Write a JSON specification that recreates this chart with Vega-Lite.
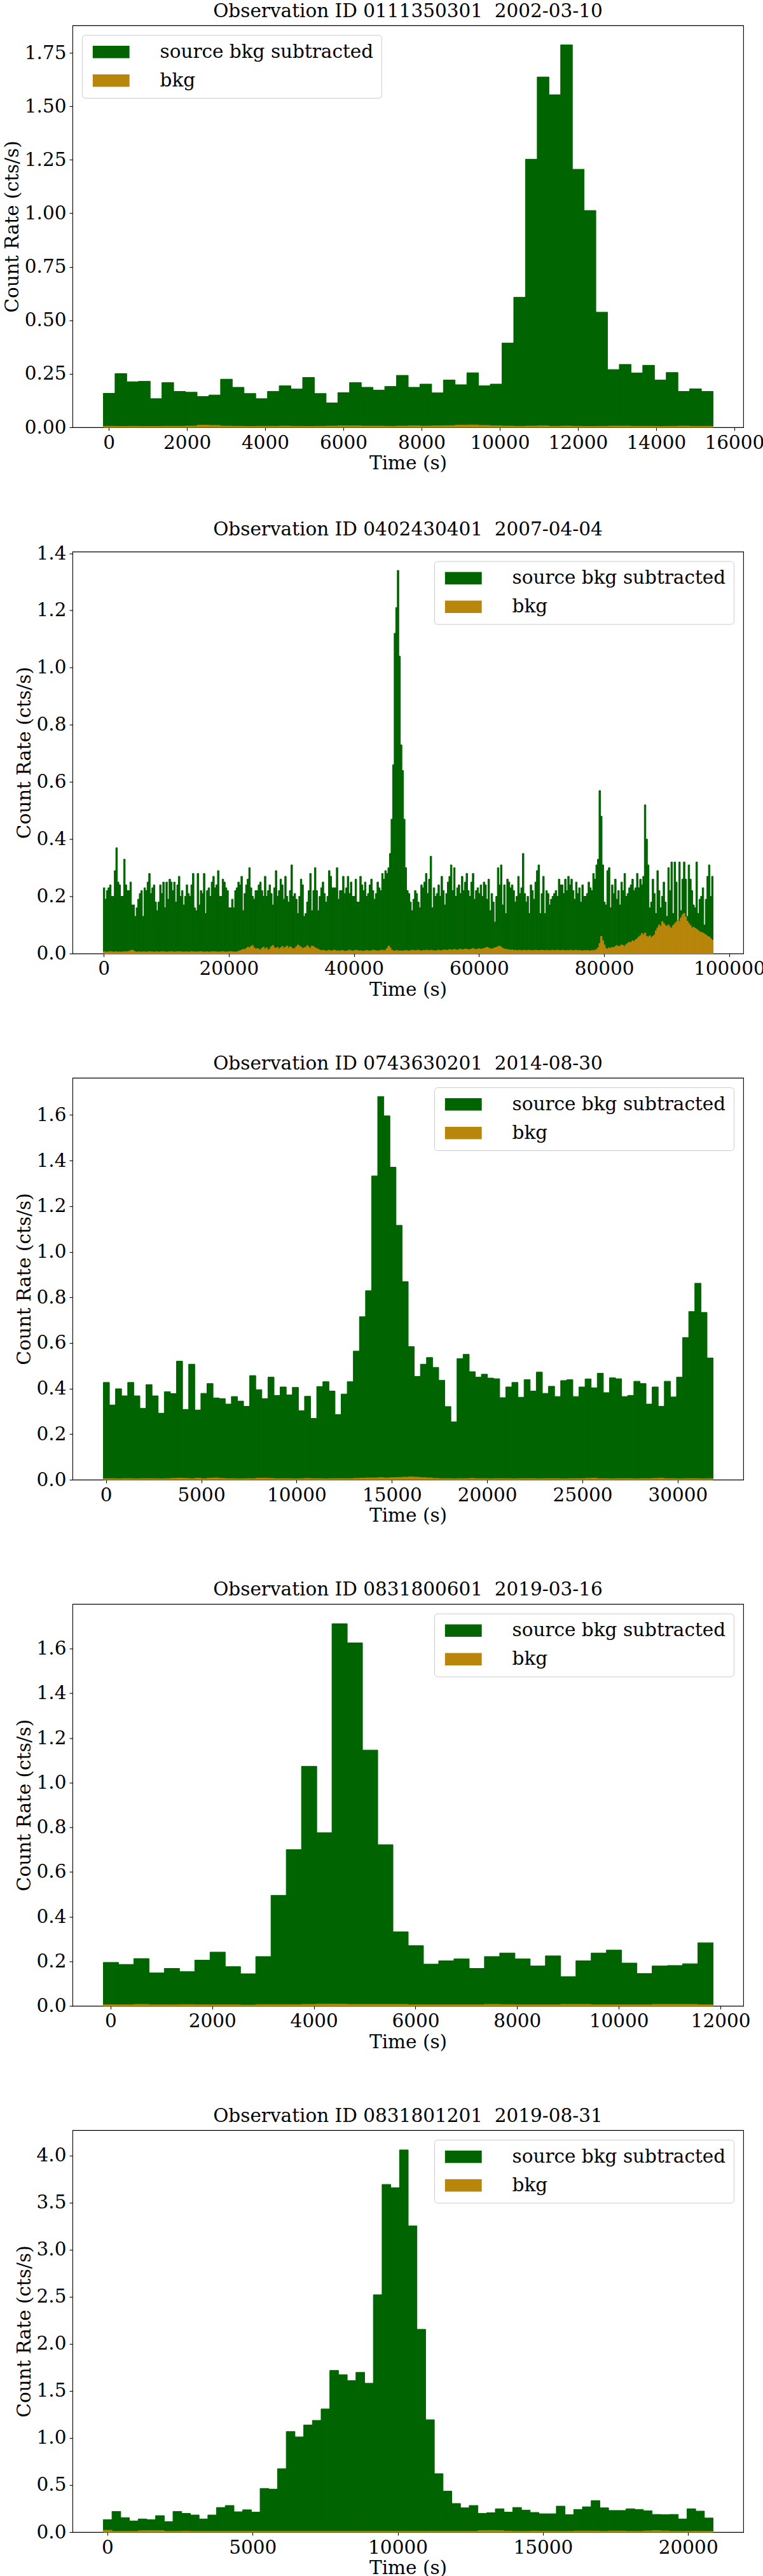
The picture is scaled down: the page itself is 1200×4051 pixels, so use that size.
{
  "$schema": "https://vega.github.io/schema/vega-lite/v6.json",
  "background": "white",
  "padding": {"left": 3, "top": 1, "right": 0, "bottom": 0},
  "config": {
    "font": "DejaVu Serif",
    "view": {"stroke": "black", "strokeWidth": 1.1},
    "axis": {
      "domain": false, "grid": false,
      "tickColor": "black", "tickWidth": 1.1, "tickSize": 5,
      "labelPadding": 5, "labelFont": "DejaVu Serif", "labelFontSize": 29.5, "labelColor": "black",
      "labelFlush": false, "labelOverlap": false,
      "titleFont": "DejaVu Serif", "titleFontSize": 29.5, "titleFontWeight": "normal", "titleColor": "black"
    },
    "axisX": {"titlePadding": 4},
    "axisY": {"titlePadding": 4},
    "title": {"font": "DejaVu Serif", "fontSize": 29.5, "fontWeight": "normal", "color": "black", "offset": 7, "baseline": "alphabetic", "frame": "group", "anchor": "middle"},
    "legend": {
      "labelFont": "DejaVu Serif", "labelFontSize": 29.5, "labelColor": "black", "labelLimit": 600,
      "symbolType": "M-3,-1H3V1H-3Z", "symbolSize": 372, "symbolStrokeWidth": 0,
      "symbolOffset": 19, "labelOffset": 62,
      "padding": 12, "rowPadding": 14,
      "strokeColor": "#cccccc", "fillColor": "white", "cornerRadius": 5, "offset": 15
    }
  },
  "datasets": {
    "p1": [
      {"t":0,"src":0.159,"bkg":0.005},{"t":300,"src":0.251,"bkg":0.004},{"t":600,"src":0.213,"bkg":0.005},{"t":900,"src":0.215,"bkg":0.004},
      {"t":1200,"src":0.134,"bkg":0.004},{"t":1500,"src":0.209,"bkg":0.005},{"t":1800,"src":0.168,"bkg":0.005},{"t":2100,"src":0.164,"bkg":0.006},
      {"t":2400,"src":0.144,"bkg":0.010},{"t":2700,"src":0.151,"bkg":0.009},{"t":3000,"src":0.225,"bkg":0.006},{"t":3300,"src":0.187,"bkg":0.005},
      {"t":3600,"src":0.158,"bkg":0.004},{"t":3900,"src":0.134,"bkg":0.005},{"t":4200,"src":0.168,"bkg":0.005},{"t":4500,"src":0.194,"bkg":0.006},
      {"t":4800,"src":0.179,"bkg":0.005},{"t":5100,"src":0.233,"bkg":0.004},{"t":5400,"src":0.158,"bkg":0.005},{"t":5700,"src":0.114,"bkg":0.006},
      {"t":6000,"src":0.162,"bkg":0.007},{"t":6300,"src":0.209,"bkg":0.007},{"t":6600,"src":0.187,"bkg":0.006},{"t":6900,"src":0.174,"bkg":0.006},
      {"t":7200,"src":0.191,"bkg":0.005},{"t":7500,"src":0.243,"bkg":0.006},{"t":7800,"src":0.187,"bkg":0.007},{"t":8100,"src":0.202,"bkg":0.006},
      {"t":8400,"src":0.161,"bkg":0.007},{"t":8700,"src":0.221,"bkg":0.008},{"t":9000,"src":0.199,"bkg":0.010},{"t":9300,"src":0.255,"bkg":0.011},
      {"t":9600,"src":0.194,"bkg":0.009},{"t":9900,"src":0.202,"bkg":0.007},{"t":10200,"src":0.394,"bkg":0.006},{"t":10500,"src":0.608,"bkg":0.005},
      {"t":10800,"src":1.253,"bkg":0.006},{"t":11100,"src":1.637,"bkg":0.007},{"t":11400,"src":1.554,"bkg":0.005},{"t":11700,"src":1.787,"bkg":0.006},
      {"t":12000,"src":1.206,"bkg":0.005},{"t":12300,"src":1.013,"bkg":0.004},{"t":12600,"src":0.538,"bkg":0.005},{"t":12900,"src":0.270,"bkg":0.006},
      {"t":13200,"src":0.294,"bkg":0.006},{"t":13500,"src":0.254,"bkg":0.005},{"t":13800,"src":0.290,"bkg":0.005},{"t":14100,"src":0.221,"bkg":0.004},
      {"t":14400,"src":0.256,"bkg":0.005},{"t":14700,"src":0.168,"bkg":0.006},{"t":15000,"src":0.180,"bkg":0.005},{"t":15300,"src":0.168,"bkg":0.005}
    ],
    "p2": [
      {"t":0,"src":0.23,"bkg":0.006},{"t":250,"src":0.19,"bkg":0.006},{"t":500,"src":0.22,"bkg":0.005},{"t":750,"src":0.23,"bkg":0.006},{"t":1000,"src":0.24,"bkg":0.007},
      {"t":1250,"src":0.20,"bkg":0.006},{"t":1500,"src":0.20,"bkg":0.005},{"t":1750,"src":0.29,"bkg":0.006},{"t":2000,"src":0.37,"bkg":0.006},{"t":2250,"src":0.25,"bkg":0.005},
      {"t":2500,"src":0.24,"bkg":0.006},{"t":2750,"src":0.20,"bkg":0.005},{"t":3000,"src":0.20,"bkg":0.006},{"t":3250,"src":0.33,"bkg":0.006},{"t":3500,"src":0.24,"bkg":0.007},
      {"t":3750,"src":0.22,"bkg":0.006},{"t":4000,"src":0.22,"bkg":0.008},{"t":4250,"src":0.25,"bkg":0.010},{"t":4500,"src":0.17,"bkg":0.012},{"t":4750,"src":0.17,"bkg":0.009},
      {"t":5000,"src":0.13,"bkg":0.006},{"t":5250,"src":0.16,"bkg":0.005},{"t":5500,"src":0.19,"bkg":0.006},{"t":5750,"src":0.21,"bkg":0.006},{"t":6000,"src":0.22,"bkg":0.005},
      {"t":6250,"src":0.13,"bkg":0.006},{"t":6500,"src":0.23,"bkg":0.006},{"t":6750,"src":0.22,"bkg":0.005},{"t":7000,"src":0.25,"bkg":0.006},{"t":7250,"src":0.28,"bkg":0.007},
      {"t":7500,"src":0.21,"bkg":0.006},{"t":7750,"src":0.23,"bkg":0.006},{"t":8000,"src":0.24,"bkg":0.005},{"t":8250,"src":0.18,"bkg":0.006},{"t":8500,"src":0.15,"bkg":0.006},
      {"t":8750,"src":0.18,"bkg":0.005},{"t":9000,"src":0.24,"bkg":0.006},{"t":9250,"src":0.21,"bkg":0.007},{"t":9500,"src":0.25,"bkg":0.006},{"t":9750,"src":0.16,"bkg":0.006},
      {"t":10000,"src":0.25,"bkg":0.005},{"t":10250,"src":0.19,"bkg":0.006},{"t":10500,"src":0.26,"bkg":0.006},{"t":10750,"src":0.25,"bkg":0.007},{"t":11000,"src":0.22,"bkg":0.006},
      {"t":11250,"src":0.25,"bkg":0.005},{"t":11500,"src":0.18,"bkg":0.006},{"t":11750,"src":0.24,"bkg":0.006},{"t":12000,"src":0.27,"bkg":0.007},{"t":12250,"src":0.20,"bkg":0.006},
      {"t":12500,"src":0.22,"bkg":0.006},{"t":12750,"src":0.17,"bkg":0.005},{"t":13000,"src":0.20,"bkg":0.006},{"t":13250,"src":0.24,"bkg":0.006},{"t":13500,"src":0.21,"bkg":0.005},
      {"t":13750,"src":0.20,"bkg":0.006},{"t":14000,"src":0.24,"bkg":0.007},{"t":14250,"src":0.28,"bkg":0.006},{"t":14500,"src":0.16,"bkg":0.006},{"t":14750,"src":0.15,"bkg":0.005},
      {"t":15000,"src":0.28,"bkg":0.006},{"t":15250,"src":0.17,"bkg":0.006},{"t":15500,"src":0.22,"bkg":0.007},{"t":15750,"src":0.21,"bkg":0.006},{"t":16000,"src":0.28,"bkg":0.005},
      {"t":16250,"src":0.14,"bkg":0.006},{"t":16500,"src":0.22,"bkg":0.006},{"t":16750,"src":0.23,"bkg":0.005},{"t":17000,"src":0.20,"bkg":0.006},{"t":17250,"src":0.25,"bkg":0.006},
      {"t":17500,"src":0.27,"bkg":0.007},{"t":17750,"src":0.23,"bkg":0.006},{"t":18000,"src":0.24,"bkg":0.006},{"t":18250,"src":0.29,"bkg":0.005},{"t":18500,"src":0.20,"bkg":0.006},
      {"t":18750,"src":0.20,"bkg":0.006},{"t":19000,"src":0.26,"bkg":0.007},{"t":19250,"src":0.25,"bkg":0.006},{"t":19500,"src":0.23,"bkg":0.005},{"t":19750,"src":0.22,"bkg":0.006},
      {"t":20000,"src":0.16,"bkg":0.006},{"t":20250,"src":0.16,"bkg":0.007},{"t":20500,"src":0.19,"bkg":0.006},{"t":20750,"src":0.16,"bkg":0.006},{"t":21000,"src":0.22,"bkg":0.005},
      {"t":21250,"src":0.23,"bkg":0.006},{"t":21500,"src":0.25,"bkg":0.008},{"t":21750,"src":0.24,"bkg":0.010},{"t":22000,"src":0.27,"bkg":0.012},{"t":22250,"src":0.15,"bkg":0.015},
      {"t":22500,"src":0.21,"bkg":0.014},{"t":22750,"src":0.24,"bkg":0.018},{"t":23000,"src":0.26,"bkg":0.022},{"t":23250,"src":0.30,"bkg":0.020},{"t":23500,"src":0.23,"bkg":0.025},
      {"t":23750,"src":0.20,"bkg":0.028},{"t":24000,"src":0.19,"bkg":0.020},{"t":24250,"src":0.22,"bkg":0.016},{"t":24500,"src":0.22,"bkg":0.018},{"t":24750,"src":0.24,"bkg":0.015},
      {"t":25000,"src":0.25,"bkg":0.012},{"t":25250,"src":0.22,"bkg":0.018},{"t":25500,"src":0.20,"bkg":0.022},{"t":25750,"src":0.27,"bkg":0.015},{"t":26000,"src":0.20,"bkg":0.020},
      {"t":26250,"src":0.22,"bkg":0.012},{"t":26500,"src":0.24,"bkg":0.016},{"t":26750,"src":0.21,"bkg":0.024},{"t":27000,"src":0.17,"bkg":0.028},{"t":27250,"src":0.23,"bkg":0.020},
      {"t":27500,"src":0.29,"bkg":0.018},{"t":27750,"src":0.20,"bkg":0.022},{"t":28000,"src":0.22,"bkg":0.016},{"t":28250,"src":0.26,"bkg":0.020},{"t":28500,"src":0.24,"bkg":0.025},
      {"t":28750,"src":0.19,"bkg":0.018},{"t":29000,"src":0.27,"bkg":0.022},{"t":29250,"src":0.20,"bkg":0.026},{"t":29500,"src":0.18,"bkg":0.019},{"t":29750,"src":0.22,"bkg":0.024},
      {"t":30000,"src":0.31,"bkg":0.020},{"t":30250,"src":0.20,"bkg":0.016},{"t":30500,"src":0.21,"bkg":0.018},{"t":30750,"src":0.19,"bkg":0.024},{"t":31000,"src":0.14,"bkg":0.030},
      {"t":31250,"src":0.20,"bkg":0.026},{"t":31500,"src":0.26,"bkg":0.022},{"t":31750,"src":0.24,"bkg":0.018},{"t":32000,"src":0.13,"bkg":0.020},{"t":32250,"src":0.14,"bkg":0.022},
      {"t":32500,"src":0.18,"bkg":0.028},{"t":32750,"src":0.22,"bkg":0.022},{"t":33000,"src":0.28,"bkg":0.018},{"t":33250,"src":0.15,"bkg":0.026},{"t":33500,"src":0.22,"bkg":0.024},
      {"t":33750,"src":0.30,"bkg":0.020},{"t":34000,"src":0.22,"bkg":0.017},{"t":34250,"src":0.15,"bkg":0.015},{"t":34500,"src":0.20,"bkg":0.012},{"t":34750,"src":0.23,"bkg":0.010},
      {"t":35000,"src":0.25,"bkg":0.012},{"t":35250,"src":0.21,"bkg":0.010},{"t":35500,"src":0.18,"bkg":0.009},{"t":35750,"src":0.20,"bkg":0.010},{"t":36000,"src":0.29,"bkg":0.012},
      {"t":36250,"src":0.27,"bkg":0.009},{"t":36500,"src":0.23,"bkg":0.010},{"t":36750,"src":0.23,"bkg":0.012},{"t":37000,"src":0.23,"bkg":0.011},{"t":37250,"src":0.30,"bkg":0.009},
      {"t":37500,"src":0.19,"bkg":0.010},{"t":37750,"src":0.22,"bkg":0.009},{"t":38000,"src":0.22,"bkg":0.011},{"t":38250,"src":0.27,"bkg":0.010},{"t":38500,"src":0.21,"bkg":0.008},
      {"t":38750,"src":0.23,"bkg":0.009},{"t":39000,"src":0.27,"bkg":0.010},{"t":39250,"src":0.21,"bkg":0.012},{"t":39500,"src":0.25,"bkg":0.010},{"t":39750,"src":0.20,"bkg":0.009},
      {"t":40000,"src":0.20,"bkg":0.010},{"t":40250,"src":0.26,"bkg":0.012},{"t":40500,"src":0.18,"bkg":0.011},{"t":40750,"src":0.18,"bkg":0.009},{"t":41000,"src":0.27,"bkg":0.010},
      {"t":41250,"src":0.24,"bkg":0.009},{"t":41500,"src":0.22,"bkg":0.008},{"t":41750,"src":0.25,"bkg":0.010},{"t":42000,"src":0.20,"bkg":0.011},{"t":42250,"src":0.21,"bkg":0.010},
      {"t":42500,"src":0.24,"bkg":0.009},{"t":42750,"src":0.26,"bkg":0.010},{"t":43000,"src":0.22,"bkg":0.012},{"t":43250,"src":0.19,"bkg":0.011},{"t":43500,"src":0.21,"bkg":0.010},
      {"t":43750,"src":0.25,"bkg":0.009},{"t":44000,"src":0.23,"bkg":0.010},{"t":44250,"src":0.22,"bkg":0.011},{"t":44500,"src":0.28,"bkg":0.012},{"t":44750,"src":0.26,"bkg":0.010},
      {"t":45000,"src":0.29,"bkg":0.012},{"t":45250,"src":0.28,"bkg":0.018},{"t":45500,"src":0.30,"bkg":0.026},{"t":45750,"src":0.35,"bkg":0.020},{"t":46000,"src":0.47,"bkg":0.012},
      {"t":46250,"src":0.66,"bkg":0.010},{"t":46500,"src":1.12,"bkg":0.009},{"t":46750,"src":1.21,"bkg":0.011},{"t":47000,"src":1.34,"bkg":0.010},{"t":47250,"src":1.04,"bkg":0.009},
      {"t":47500,"src":0.73,"bkg":0.010},{"t":47750,"src":0.64,"bkg":0.009},{"t":48000,"src":0.47,"bkg":0.010},{"t":48250,"src":0.30,"bkg":0.011},{"t":48500,"src":0.22,"bkg":0.010},
      {"t":48750,"src":0.21,"bkg":0.009},{"t":49000,"src":0.18,"bkg":0.010},{"t":49250,"src":0.15,"bkg":0.012},{"t":49500,"src":0.19,"bkg":0.011},{"t":49750,"src":0.22,"bkg":0.010},
      {"t":50000,"src":0.21,"bkg":0.011},{"t":50250,"src":0.18,"bkg":0.012},{"t":50500,"src":0.16,"bkg":0.010},{"t":50750,"src":0.24,"bkg":0.009},{"t":51000,"src":0.23,"bkg":0.011},
      {"t":51250,"src":0.25,"bkg":0.010},{"t":51500,"src":0.28,"bkg":0.012},{"t":51750,"src":0.21,"bkg":0.011},{"t":52000,"src":0.26,"bkg":0.010},{"t":52250,"src":0.34,"bkg":0.012},
      {"t":52500,"src":0.16,"bkg":0.011},{"t":52750,"src":0.23,"bkg":0.010},{"t":53000,"src":0.20,"bkg":0.009},{"t":53250,"src":0.21,"bkg":0.011},{"t":53500,"src":0.24,"bkg":0.012},
      {"t":53750,"src":0.20,"bkg":0.010},{"t":54000,"src":0.27,"bkg":0.011},{"t":54250,"src":0.22,"bkg":0.012},{"t":54500,"src":0.17,"bkg":0.013},{"t":54750,"src":0.21,"bkg":0.011},
      {"t":55000,"src":0.25,"bkg":0.012},{"t":55250,"src":0.27,"bkg":0.014},{"t":55500,"src":0.31,"bkg":0.013},{"t":55750,"src":0.22,"bkg":0.012},{"t":56000,"src":0.30,"bkg":0.015},
      {"t":56250,"src":0.20,"bkg":0.013},{"t":56500,"src":0.23,"bkg":0.012},{"t":56750,"src":0.24,"bkg":0.014},{"t":57000,"src":0.21,"bkg":0.016},{"t":57250,"src":0.27,"bkg":0.013},
      {"t":57500,"src":0.22,"bkg":0.014},{"t":57750,"src":0.25,"bkg":0.016},{"t":58000,"src":0.28,"bkg":0.015},{"t":58250,"src":0.22,"bkg":0.013},{"t":58500,"src":0.20,"bkg":0.014},
      {"t":58750,"src":0.25,"bkg":0.016},{"t":59000,"src":0.28,"bkg":0.018},{"t":59250,"src":0.19,"bkg":0.015},{"t":59500,"src":0.22,"bkg":0.014},{"t":59750,"src":0.23,"bkg":0.016},
      {"t":60000,"src":0.21,"bkg":0.017},{"t":60250,"src":0.24,"bkg":0.015},{"t":60500,"src":0.20,"bkg":0.016},{"t":60750,"src":0.25,"bkg":0.018},{"t":61000,"src":0.24,"bkg":0.020},
      {"t":61250,"src":0.19,"bkg":0.022},{"t":61500,"src":0.26,"bkg":0.019},{"t":61750,"src":0.15,"bkg":0.017},{"t":62000,"src":0.21,"bkg":0.016},{"t":62250,"src":0.18,"bkg":0.018},
      {"t":62500,"src":0.11,"bkg":0.020},{"t":62750,"src":0.20,"bkg":0.022},{"t":63000,"src":0.30,"bkg":0.024},{"t":63250,"src":0.24,"bkg":0.026},{"t":63500,"src":0.31,"bkg":0.022},
      {"t":63750,"src":0.17,"bkg":0.018},{"t":64000,"src":0.24,"bkg":0.016},{"t":64250,"src":0.14,"bkg":0.015},{"t":64500,"src":0.26,"bkg":0.014},{"t":64750,"src":0.25,"bkg":0.013},
      {"t":65000,"src":0.23,"bkg":0.012},{"t":65250,"src":0.24,"bkg":0.013},{"t":65500,"src":0.22,"bkg":0.011},{"t":65750,"src":0.18,"bkg":0.012},{"t":66000,"src":0.20,"bkg":0.010},
      {"t":66250,"src":0.27,"bkg":0.011},{"t":66500,"src":0.21,"bkg":0.012},{"t":66750,"src":0.23,"bkg":0.010},{"t":67000,"src":0.35,"bkg":0.011},{"t":67250,"src":0.21,"bkg":0.012},
      {"t":67500,"src":0.18,"bkg":0.010},{"t":67750,"src":0.20,"bkg":0.011},{"t":68000,"src":0.14,"bkg":0.012},{"t":68250,"src":0.24,"bkg":0.010},{"t":68500,"src":0.22,"bkg":0.011},
      {"t":68750,"src":0.19,"bkg":0.010},{"t":69000,"src":0.25,"bkg":0.012},{"t":69250,"src":0.29,"bkg":0.011},{"t":69500,"src":0.31,"bkg":0.010},{"t":69750,"src":0.14,"bkg":0.011},
      {"t":70000,"src":0.21,"bkg":0.012},{"t":70250,"src":0.27,"bkg":0.011},{"t":70500,"src":0.14,"bkg":0.010},{"t":70750,"src":0.22,"bkg":0.012},{"t":71000,"src":0.21,"bkg":0.011},
      {"t":71250,"src":0.17,"bkg":0.010},{"t":71500,"src":0.19,"bkg":0.011},{"t":71750,"src":0.20,"bkg":0.012},{"t":72000,"src":0.21,"bkg":0.010},{"t":72250,"src":0.22,"bkg":0.011},
      {"t":72500,"src":0.20,"bkg":0.012},{"t":72750,"src":0.26,"bkg":0.011},{"t":73000,"src":0.24,"bkg":0.010},{"t":73250,"src":0.24,"bkg":0.012},{"t":73500,"src":0.21,"bkg":0.011},
      {"t":73750,"src":0.26,"bkg":0.010},{"t":74000,"src":0.22,"bkg":0.011},{"t":74250,"src":0.27,"bkg":0.010},{"t":74500,"src":0.24,"bkg":0.012},{"t":74750,"src":0.26,"bkg":0.011},
      {"t":75000,"src":0.22,"bkg":0.010},{"t":75250,"src":0.19,"bkg":0.011},{"t":75500,"src":0.25,"bkg":0.012},{"t":75750,"src":0.21,"bkg":0.010},{"t":76000,"src":0.23,"bkg":0.011},
      {"t":76250,"src":0.18,"bkg":0.010},{"t":76500,"src":0.24,"bkg":0.009},{"t":76750,"src":0.20,"bkg":0.011},{"t":77000,"src":0.20,"bkg":0.010},{"t":77250,"src":0.21,"bkg":0.011},
      {"t":77500,"src":0.25,"bkg":0.010},{"t":77750,"src":0.23,"bkg":0.009},{"t":78000,"src":0.22,"bkg":0.011},{"t":78250,"src":0.28,"bkg":0.010},{"t":78500,"src":0.26,"bkg":0.012},
      {"t":78750,"src":0.31,"bkg":0.014},{"t":79000,"src":0.33,"bkg":0.020},{"t":79250,"src":0.57,"bkg":0.035},{"t":79500,"src":0.48,"bkg":0.060},{"t":79750,"src":0.31,"bkg":0.045},
      {"t":80000,"src":0.18,"bkg":0.030},{"t":80250,"src":0.17,"bkg":0.018},{"t":80500,"src":0.29,"bkg":0.015},{"t":80750,"src":0.30,"bkg":0.020},{"t":81000,"src":0.16,"bkg":0.018},
      {"t":81250,"src":0.24,"bkg":0.022},{"t":81500,"src":0.21,"bkg":0.020},{"t":81750,"src":0.26,"bkg":0.025},{"t":82000,"src":0.19,"bkg":0.028},{"t":82250,"src":0.22,"bkg":0.024},
      {"t":82500,"src":0.17,"bkg":0.026},{"t":82750,"src":0.25,"bkg":0.030},{"t":83000,"src":0.22,"bkg":0.028},{"t":83250,"src":0.28,"bkg":0.025},{"t":83500,"src":0.20,"bkg":0.032},
      {"t":83750,"src":0.21,"bkg":0.036},{"t":84000,"src":0.23,"bkg":0.040},{"t":84250,"src":0.24,"bkg":0.038},{"t":84500,"src":0.26,"bkg":0.045},{"t":84750,"src":0.22,"bkg":0.042},
      {"t":85000,"src":0.23,"bkg":0.048},{"t":85250,"src":0.28,"bkg":0.052},{"t":85500,"src":0.23,"bkg":0.058},{"t":85750,"src":0.26,"bkg":0.062},{"t":86000,"src":0.24,"bkg":0.070},
      {"t":86250,"src":0.27,"bkg":0.065},{"t":86500,"src":0.52,"bkg":0.072},{"t":86750,"src":0.40,"bkg":0.060},{"t":87000,"src":0.31,"bkg":0.058},{"t":87250,"src":0.16,"bkg":0.062},
      {"t":87500,"src":0.18,"bkg":0.055},{"t":87750,"src":0.26,"bkg":0.060},{"t":88000,"src":0.21,"bkg":0.065},{"t":88250,"src":0.14,"bkg":0.080},{"t":88500,"src":0.29,"bkg":0.090},
      {"t":88750,"src":0.22,"bkg":0.100},{"t":89000,"src":0.16,"bkg":0.095},{"t":89250,"src":0.20,"bkg":0.112},{"t":89500,"src":0.25,"bkg":0.105},{"t":89750,"src":0.18,"bkg":0.098},
      {"t":90000,"src":0.13,"bkg":0.095},{"t":90250,"src":0.30,"bkg":0.100},{"t":90500,"src":0.22,"bkg":0.092},{"t":90750,"src":0.32,"bkg":0.088},{"t":91000,"src":0.14,"bkg":0.098},
      {"t":91250,"src":0.32,"bkg":0.104},{"t":91500,"src":0.25,"bkg":0.110},{"t":91750,"src":0.11,"bkg":0.117},{"t":92000,"src":0.32,"bkg":0.112},{"t":92250,"src":0.15,"bkg":0.125},
      {"t":92500,"src":0.26,"bkg":0.135},{"t":92750,"src":0.32,"bkg":0.140},{"t":93000,"src":0.26,"bkg":0.128},{"t":93250,"src":0.13,"bkg":0.113},{"t":93500,"src":0.31,"bkg":0.105},
      {"t":93750,"src":0.26,"bkg":0.098},{"t":94000,"src":0.22,"bkg":0.090},{"t":94250,"src":0.17,"bkg":0.092},{"t":94500,"src":0.16,"bkg":0.088},{"t":94750,"src":0.32,"bkg":0.085},
      {"t":95000,"src":0.14,"bkg":0.080},{"t":95250,"src":0.19,"bkg":0.076},{"t":95500,"src":0.20,"bkg":0.074},{"t":95750,"src":0.23,"bkg":0.072},{"t":96000,"src":0.10,"bkg":0.068},
      {"t":96250,"src":0.19,"bkg":0.065},{"t":96500,"src":0.27,"bkg":0.060},{"t":96750,"src":0.31,"bkg":0.058},{"t":97000,"src":0.20,"bkg":0.052},{"t":97250,"src":0.27,"bkg":0.047}
    ],
    "p3": [
      {"t":0,"src":0.427,"bkg":0.005},{"t":320,"src":0.328,"bkg":0.005},{"t":640,"src":0.399,"bkg":0.004},{"t":960,"src":0.368,"bkg":0.005},{"t":1280,"src":0.427,"bkg":0.005},
      {"t":1600,"src":0.368,"bkg":0.004},{"t":1920,"src":0.313,"bkg":0.005},{"t":2240,"src":0.417,"bkg":0.005},{"t":2560,"src":0.368,"bkg":0.005},{"t":2880,"src":0.292,"bkg":0.004},
      {"t":3200,"src":0.386,"bkg":0.005},{"t":3520,"src":0.378,"bkg":0.006},{"t":3840,"src":0.520,"bkg":0.007},{"t":4160,"src":0.308,"bkg":0.006},{"t":4480,"src":0.507,"bkg":0.005},
      {"t":4800,"src":0.306,"bkg":0.007},{"t":5120,"src":0.379,"bkg":0.005},{"t":5440,"src":0.422,"bkg":0.007},{"t":5760,"src":0.359,"bkg":0.008},{"t":6080,"src":0.356,"bkg":0.006},
      {"t":6400,"src":0.332,"bkg":0.005},{"t":6720,"src":0.365,"bkg":0.005},{"t":7040,"src":0.345,"bkg":0.004},{"t":7360,"src":0.322,"bkg":0.005},{"t":7680,"src":0.457,"bkg":0.005},
      {"t":8000,"src":0.395,"bkg":0.007},{"t":8320,"src":0.356,"bkg":0.007},{"t":8640,"src":0.450,"bkg":0.006},{"t":8960,"src":0.370,"bkg":0.005},{"t":9280,"src":0.407,"bkg":0.005},
      {"t":9600,"src":0.372,"bkg":0.005},{"t":9920,"src":0.405,"bkg":0.004},{"t":10240,"src":0.303,"bkg":0.005},{"t":10560,"src":0.366,"bkg":0.006},{"t":10880,"src":0.269,"bkg":0.005},
      {"t":11200,"src":0.409,"bkg":0.005},{"t":11520,"src":0.430,"bkg":0.004},{"t":11840,"src":0.389,"bkg":0.005},{"t":12160,"src":0.286,"bkg":0.005},{"t":12480,"src":0.376,"bkg":0.005},
      {"t":12800,"src":0.430,"bkg":0.005},{"t":13120,"src":0.564,"bkg":0.006},{"t":13440,"src":0.715,"bkg":0.007},{"t":13760,"src":0.829,"bkg":0.008},{"t":14080,"src":1.333,"bkg":0.008},
      {"t":14400,"src":1.681,"bkg":0.009},{"t":14720,"src":1.596,"bkg":0.008},{"t":15040,"src":1.371,"bkg":0.009},{"t":15360,"src":1.116,"bkg":0.010},{"t":15680,"src":0.869,"bkg":0.011},
      {"t":16000,"src":0.584,"bkg":0.012},{"t":16320,"src":0.453,"bkg":0.011},{"t":16640,"src":0.507,"bkg":0.009},{"t":16960,"src":0.536,"bkg":0.008},{"t":17280,"src":0.493,"bkg":0.006},
      {"t":17600,"src":0.436,"bkg":0.005},{"t":17920,"src":0.321,"bkg":0.005},{"t":18240,"src":0.254,"bkg":0.004},{"t":18560,"src":0.531,"bkg":0.005},{"t":18880,"src":0.550,"bkg":0.005},
      {"t":19200,"src":0.474,"bkg":0.006},{"t":19520,"src":0.450,"bkg":0.005},{"t":19840,"src":0.463,"bkg":0.005},{"t":20160,"src":0.446,"bkg":0.004},{"t":20480,"src":0.443,"bkg":0.005},
      {"t":20800,"src":0.360,"bkg":0.005},{"t":21120,"src":0.407,"bkg":0.005},{"t":21440,"src":0.427,"bkg":0.004},{"t":21760,"src":0.362,"bkg":0.005},{"t":22080,"src":0.439,"bkg":0.005},
      {"t":22400,"src":0.389,"bkg":0.005},{"t":22720,"src":0.472,"bkg":0.004},{"t":23040,"src":0.379,"bkg":0.005},{"t":23360,"src":0.410,"bkg":0.005},{"t":23680,"src":0.365,"bkg":0.005},
      {"t":24000,"src":0.435,"bkg":0.004},{"t":24320,"src":0.439,"bkg":0.005},{"t":24640,"src":0.365,"bkg":0.005},{"t":24960,"src":0.407,"bkg":0.005},{"t":25280,"src":0.442,"bkg":0.006},
      {"t":25600,"src":0.403,"bkg":0.007},{"t":25920,"src":0.467,"bkg":0.005},{"t":26240,"src":0.382,"bkg":0.005},{"t":26560,"src":0.447,"bkg":0.004},{"t":26880,"src":0.443,"bkg":0.005},
      {"t":27200,"src":0.365,"bkg":0.005},{"t":27520,"src":0.370,"bkg":0.005},{"t":27840,"src":0.432,"bkg":0.004},{"t":28160,"src":0.422,"bkg":0.005},{"t":28480,"src":0.332,"bkg":0.005},
      {"t":28800,"src":0.407,"bkg":0.006},{"t":29120,"src":0.322,"bkg":0.007},{"t":29440,"src":0.432,"bkg":0.005},{"t":29760,"src":0.363,"bkg":0.005},{"t":30080,"src":0.450,"bkg":0.004},
      {"t":30400,"src":0.624,"bkg":0.005},{"t":30720,"src":0.738,"bkg":0.005},{"t":31040,"src":0.862,"bkg":0.005},{"t":31360,"src":0.734,"bkg":0.004},{"t":31680,"src":0.534,"bkg":0.005}
    ],
    "p4": [
      {"t":0,"src":0.195,"bkg":0.005},{"t":300,"src":0.186,"bkg":0.005},{"t":600,"src":0.212,"bkg":0.007},{"t":900,"src":0.148,"bkg":0.005},
      {"t":1200,"src":0.168,"bkg":0.005},{"t":1500,"src":0.154,"bkg":0.006},{"t":1800,"src":0.205,"bkg":0.005},{"t":2100,"src":0.241,"bkg":0.005},
      {"t":2400,"src":0.176,"bkg":0.005},{"t":2700,"src":0.144,"bkg":0.004},{"t":3000,"src":0.221,"bkg":0.006},{"t":3300,"src":0.495,"bkg":0.006},
      {"t":3600,"src":0.700,"bkg":0.006},{"t":3900,"src":1.073,"bkg":0.007},{"t":4200,"src":0.776,"bkg":0.008},{"t":4500,"src":1.712,"bkg":0.008},
      {"t":4800,"src":1.626,"bkg":0.007},{"t":5100,"src":1.146,"bkg":0.007},{"t":5400,"src":0.722,"bkg":0.007},{"t":5700,"src":0.332,"bkg":0.007},
      {"t":6000,"src":0.270,"bkg":0.005},{"t":6300,"src":0.187,"bkg":0.005},{"t":6600,"src":0.202,"bkg":0.005},{"t":6900,"src":0.211,"bkg":0.005},
      {"t":7200,"src":0.168,"bkg":0.005},{"t":7500,"src":0.221,"bkg":0.007},{"t":7800,"src":0.237,"bkg":0.006},{"t":8100,"src":0.211,"bkg":0.005},
      {"t":8400,"src":0.179,"bkg":0.005},{"t":8700,"src":0.224,"bkg":0.005},{"t":9000,"src":0.131,"bkg":0.007},{"t":9300,"src":0.202,"bkg":0.007},
      {"t":9600,"src":0.237,"bkg":0.005},{"t":9900,"src":0.250,"bkg":0.005},{"t":10200,"src":0.192,"bkg":0.005},{"t":10500,"src":0.145,"bkg":0.005},
      {"t":10800,"src":0.179,"bkg":0.007},{"t":11100,"src":0.181,"bkg":0.007},{"t":11400,"src":0.189,"bkg":0.007},{"t":11700,"src":0.283,"bkg":0.005}
    ],
    "p5": [
      {"t":0,"src":0.133,"bkg":0.020},{"t":300,"src":0.220,"bkg":0.008},{"t":600,"src":0.154,"bkg":0.008},{"t":900,"src":0.119,"bkg":0.008},{"t":1200,"src":0.140,"bkg":0.015},
      {"t":1500,"src":0.133,"bkg":0.016},{"t":1800,"src":0.175,"bkg":0.016},{"t":2100,"src":0.112,"bkg":0.008},{"t":2400,"src":0.220,"bkg":0.008},{"t":2700,"src":0.199,"bkg":0.011},
      {"t":3000,"src":0.182,"bkg":0.008},{"t":3300,"src":0.140,"bkg":0.008},{"t":3600,"src":0.182,"bkg":0.008},{"t":3900,"src":0.262,"bkg":0.008},{"t":4200,"src":0.283,"bkg":0.008},
      {"t":4500,"src":0.216,"bkg":0.008},{"t":4800,"src":0.237,"bkg":0.008},{"t":5100,"src":0.213,"bkg":0.008},{"t":5400,"src":0.464,"bkg":0.008},{"t":5700,"src":0.457,"bkg":0.008},
      {"t":6000,"src":0.674,"bkg":0.008},{"t":6300,"src":1.068,"bkg":0.008},{"t":6600,"src":1.012,"bkg":0.008},{"t":6900,"src":1.138,"bkg":0.008},{"t":7200,"src":1.187,"bkg":0.008},
      {"t":7500,"src":1.309,"bkg":0.008},{"t":7800,"src":1.717,"bkg":0.008},{"t":8100,"src":1.672,"bkg":0.008},{"t":8400,"src":1.609,"bkg":0.008},{"t":8700,"src":1.696,"bkg":0.008},
      {"t":9000,"src":1.581,"bkg":0.008},{"t":9300,"src":2.520,"bkg":0.008},{"t":9600,"src":3.693,"bkg":0.008},{"t":9900,"src":3.658,"bkg":0.008},{"t":10200,"src":4.059,"bkg":0.008},
      {"t":10500,"src":3.253,"bkg":0.008},{"t":10800,"src":2.154,"bkg":0.008},{"t":11100,"src":1.194,"bkg":0.008},{"t":11400,"src":0.621,"bkg":0.008},{"t":11700,"src":0.436,"bkg":0.008},
      {"t":12000,"src":0.304,"bkg":0.008},{"t":12300,"src":0.258,"bkg":0.008},{"t":12600,"src":0.283,"bkg":0.008},{"t":12900,"src":0.199,"bkg":0.016},{"t":13200,"src":0.206,"bkg":0.018},
      {"t":13500,"src":0.248,"bkg":0.016},{"t":13800,"src":0.213,"bkg":0.011},{"t":14100,"src":0.262,"bkg":0.008},{"t":14400,"src":0.234,"bkg":0.008},{"t":14700,"src":0.209,"bkg":0.011},
      {"t":15000,"src":0.195,"bkg":0.008},{"t":15300,"src":0.195,"bkg":0.008},{"t":15600,"src":0.276,"bkg":0.008},{"t":15900,"src":0.185,"bkg":0.008},{"t":16200,"src":0.241,"bkg":0.012},
      {"t":16500,"src":0.269,"bkg":0.012},{"t":16800,"src":0.335,"bkg":0.012},{"t":17100,"src":0.258,"bkg":0.008},{"t":17400,"src":0.230,"bkg":0.012},{"t":17700,"src":0.230,"bkg":0.012},
      {"t":18000,"src":0.248,"bkg":0.008},{"t":18300,"src":0.241,"bkg":0.008},{"t":18600,"src":0.227,"bkg":0.013},{"t":18900,"src":0.188,"bkg":0.016},{"t":19200,"src":0.185,"bkg":0.013},
      {"t":19500,"src":0.188,"bkg":0.008},{"t":19800,"src":0.140,"bkg":0.008},{"t":20100,"src":0.248,"bkg":0.008},{"t":20400,"src":0.223,"bkg":0.008},{"t":20700,"src":0.150,"bkg":0.008}
    ]
  },
  "spacing": 195.5,
  "bounds": "flush",
  "resolve": {
    "scale": {"x": "independent", "y": "independent", "color": "independent"},
    "legend": {"color": "independent"}
  },
  "vconcat": [
    {
      "title": {"text": "Observation ID 0111350301 \u00a02002-03-10"},
      "data": {"name": "p1"},
      "width": 1055, "height": 632,
      "encoding": {
        "x": {"field": "t", "type": "quantitative", "bin": {"step": 300, "extent": [-150, 15450], "nice": false},
              "scale": {"domain": [-930, 16230], "nice": false, "zero": false},
              "axis": {"title": "Time (s)", "values": [0, 2000, 4000, 6000, 8000, 10000, 12000, 14000, 16000], "format": "d"}}
      },
      "layer": [
        {"mark": {"type": "bar", "binSpacing": 0, "stroke": "#006400", "strokeWidth": 1},
         "encoding": {
           "y": {"field": "src", "type": "quantitative", "stack": null, "scale": {"domain": [0, 1.878], "nice": false},
                 "axis": {"title": "Count Rate (cts/s)", "values": [0, 0.25, 0.5, 0.75, 1.0, 1.25, 1.5, 1.75], "format": ".2f"}},
           "color": {"datum": "source bkg subtracted", "type": "nominal",
                     "scale": {"domain": ["source bkg subtracted", "bkg"], "range": ["#006400", "#b8860b"]},
                     "legend": {"title": null, "orient": "top-left"}}}},
        {"mark": {"type": "bar", "binSpacing": 0, "stroke": "#b8860b", "strokeWidth": 1},
         "encoding": {
           "y": {"field": "bkg", "type": "quantitative", "stack": null, "scale": {"domain": [0, 1.878], "nice": false}, "title": "Count Rate (cts/s)"},
           "color": {"datum": "bkg", "type": "nominal",
                     "scale": {"domain": ["source bkg subtracted", "bkg"], "range": ["#006400", "#b8860b"]},
                     "legend": {"title": null, "orient": "top-left"}}}}
      ]
    },
    {
      "title": {"text": "Observation ID 0402430401 \u00a02007-04-04"},
      "data": {"name": "p2"},
      "width": 1055, "height": 632,
      "encoding": {
        "x": {"field": "t", "type": "quantitative", "bin": {"step": 250, "extent": [-125, 97375], "nice": false},
              "scale": {"domain": [-5000, 102250], "nice": false, "zero": false},
              "axis": {"title": "Time (s)", "values": [0, 20000, 40000, 60000, 80000, 100000], "format": "d"}}
      },
      "layer": [
        {"mark": {"type": "bar", "binSpacing": 0, "stroke": "#006400", "strokeWidth": 1},
         "encoding": {
           "y": {"field": "src", "type": "quantitative", "stack": null, "scale": {"domain": [0, 1.4057], "nice": false},
                 "axis": {"title": "Count Rate (cts/s)", "values": [0, 0.2, 0.4, 0.6, 0.8, 1.0, 1.2, 1.4], "format": ".1f"}},
           "color": {"datum": "source bkg subtracted", "type": "nominal",
                     "scale": {"domain": ["source bkg subtracted", "bkg"], "range": ["#006400", "#b8860b"]},
                     "legend": {"title": null, "orient": "top-right"}}}},
        {"mark": {"type": "bar", "binSpacing": 0, "stroke": "#b8860b", "strokeWidth": 1},
         "encoding": {
           "y": {"field": "bkg", "type": "quantitative", "stack": null, "scale": {"domain": [0, 1.4057], "nice": false}, "title": "Count Rate (cts/s)"},
           "color": {"datum": "bkg", "type": "nominal",
                     "scale": {"domain": ["source bkg subtracted", "bkg"], "range": ["#006400", "#b8860b"]},
                     "legend": {"title": null, "orient": "top-right"}}}}
      ]
    },
    {
      "title": {"text": "Observation ID 0743630201 \u00a02014-08-30"},
      "data": {"name": "p3"},
      "width": 1055, "height": 632,
      "encoding": {
        "x": {"field": "t", "type": "quantitative", "bin": {"step": 320, "extent": [-160, 31840], "nice": false},
              "scale": {"domain": [-1760, 33440], "nice": false, "zero": false},
              "axis": {"title": "Time (s)", "values": [0, 5000, 10000, 15000, 20000, 25000, 30000], "format": "d"}}
      },
      "layer": [
        {"mark": {"type": "bar", "binSpacing": 0, "stroke": "#006400", "strokeWidth": 1},
         "encoding": {
           "y": {"field": "src", "type": "quantitative", "stack": null, "scale": {"domain": [0, 1.763], "nice": false},
                 "axis": {"title": "Count Rate (cts/s)", "values": [0, 0.2, 0.4, 0.6, 0.8, 1.0, 1.2, 1.4, 1.6], "format": ".1f"}},
           "color": {"datum": "source bkg subtracted", "type": "nominal",
                     "scale": {"domain": ["source bkg subtracted", "bkg"], "range": ["#006400", "#b8860b"]},
                     "legend": {"title": null, "orient": "top-right"}}}},
        {"mark": {"type": "bar", "binSpacing": 0, "stroke": "#b8860b", "strokeWidth": 1},
         "encoding": {
           "y": {"field": "bkg", "type": "quantitative", "stack": null, "scale": {"domain": [0, 1.763], "nice": false}, "title": "Count Rate (cts/s)"},
           "color": {"datum": "bkg", "type": "nominal",
                     "scale": {"domain": ["source bkg subtracted", "bkg"], "range": ["#006400", "#b8860b"]},
                     "legend": {"title": null, "orient": "top-right"}}}}
      ]
    },
    {
      "title": {"text": "Observation ID 0831800601 \u00a02019-03-16"},
      "data": {"name": "p4"},
      "width": 1055, "height": 632,
      "encoding": {
        "x": {"field": "t", "type": "quantitative", "bin": {"step": 300, "extent": [-150, 11850], "nice": false},
              "scale": {"domain": [-750, 12450], "nice": false, "zero": false},
              "axis": {"title": "Time (s)", "values": [0, 2000, 4000, 6000, 8000, 10000, 12000], "format": "d"}}
      },
      "layer": [
        {"mark": {"type": "bar", "binSpacing": 0, "stroke": "#006400", "strokeWidth": 1},
         "encoding": {
           "y": {"field": "src", "type": "quantitative", "stack": null, "scale": {"domain": [0, 1.80], "nice": false},
                 "axis": {"title": "Count Rate (cts/s)", "values": [0, 0.2, 0.4, 0.6, 0.8, 1.0, 1.2, 1.4, 1.6], "format": ".1f"}},
           "color": {"datum": "source bkg subtracted", "type": "nominal",
                     "scale": {"domain": ["source bkg subtracted", "bkg"], "range": ["#006400", "#b8860b"]},
                     "legend": {"title": null, "orient": "top-right"}}}},
        {"mark": {"type": "bar", "binSpacing": 0, "stroke": "#b8860b", "strokeWidth": 1},
         "encoding": {
           "y": {"field": "bkg", "type": "quantitative", "stack": null, "scale": {"domain": [0, 1.80], "nice": false}, "title": "Count Rate (cts/s)"},
           "color": {"datum": "bkg", "type": "nominal",
                     "scale": {"domain": ["source bkg subtracted", "bkg"], "range": ["#006400", "#b8860b"]},
                     "legend": {"title": null, "orient": "top-right"}}}}
      ]
    },
    {
      "title": {"text": "Observation ID 0831801201 \u00a02019-08-31"},
      "data": {"name": "p5"},
      "width": 1055, "height": 632,
      "encoding": {
        "x": {"field": "t", "type": "quantitative", "bin": {"step": 300, "extent": [-150, 20850], "nice": false},
              "scale": {"domain": [-1200, 21900], "nice": false, "zero": false},
              "axis": {"title": "Time (s)", "values": [0, 5000, 10000, 15000, 20000], "format": "d"}}
      },
      "layer": [
        {"mark": {"type": "bar", "binSpacing": 0, "stroke": "#006400", "strokeWidth": 1},
         "encoding": {
           "y": {"field": "src", "type": "quantitative", "stack": null, "scale": {"domain": [0, 4.268], "nice": false},
                 "axis": {"title": "Count Rate (cts/s)", "values": [0, 0.5, 1.0, 1.5, 2.0, 2.5, 3.0, 3.5, 4.0], "format": ".1f"}},
           "color": {"datum": "source bkg subtracted", "type": "nominal",
                     "scale": {"domain": ["source bkg subtracted", "bkg"], "range": ["#006400", "#b8860b"]},
                     "legend": {"title": null, "orient": "top-right"}}}},
        {"mark": {"type": "bar", "binSpacing": 0, "stroke": "#b8860b", "strokeWidth": 1},
         "encoding": {
           "y": {"field": "bkg", "type": "quantitative", "stack": null, "scale": {"domain": [0, 4.268], "nice": false}, "title": "Count Rate (cts/s)"},
           "color": {"datum": "bkg", "type": "nominal",
                     "scale": {"domain": ["source bkg subtracted", "bkg"], "range": ["#006400", "#b8860b"]},
                     "legend": {"title": null, "orient": "top-right"}}}}
      ]
    }
  ]
}
